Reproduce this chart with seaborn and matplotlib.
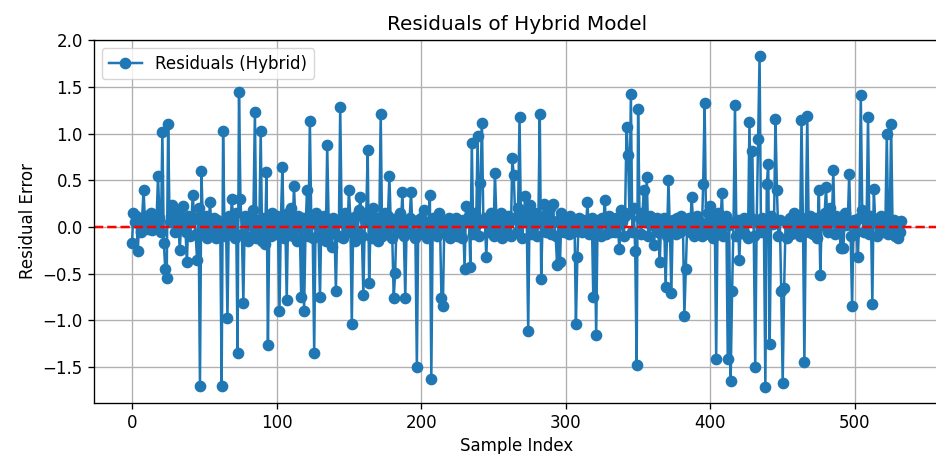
import matplotlib
matplotlib.use("Agg")
import matplotlib.pyplot as plt
import seaborn as sns
import numpy as np
import pandas as pd

# Residual values, sample index 0..532
residuals = [
    -0.17, 0.15, 0.05, 0.12, -0.26, 0.08, -0.05, 0.10, 0.40, 0.05,
    0.12, -0.02, 0.08, 0.15, -0.03, 0.10, 0.02, 0.08, 0.55, 0.10,
    -0.05, 1.02, -0.17, -0.45, -0.55, 1.10, 0.05, 0.12, 0.24, 0.05,
    -0.05, 0.15, 0.10, -0.25, 0.02, 0.22, 0.08, -0.05, -0.37, 0.12,
    -0.10, 0.05, 0.34, 0.10, -0.08, -0.35, 0.20, -1.70, 0.60, 0.05,
    -0.08, 0.12, -0.12, 0.05, 0.27, -0.05, 0.03, 0.10, -0.12, 0.08, -0.06,
    0.04, -1.70, 1.03, -0.10, 0.06, -0.98, 0.12, -0.05, 0.30, 0.08,
    -0.12, 0.15, -1.35, 1.45, 0.30, -0.08, -0.81, 0.12, 0.05, -0.15,
    0.10, 0.02, -0.10, 0.18, 1.23, -0.12, 0.08, -0.05, 1.03, -0.15,
    0.10, -0.18, 0.59, -1.26, 0.05, -0.10, 0.15, 0.02, -0.08, 0.12,
    -0.05, -0.90, 0.10, 0.64, -0.12, 0.05, -0.78, 0.15, -0.03, 0.20,
    -0.10, 0.44, 0.08, -0.15, 0.12, 0.02, -0.75, 0.10, -0.90, -0.05,
    0.40, -0.10, 1.14, 0.05, -0.12, -1.35, 0.15, 0.02, -0.08, -0.75,
    0.10, -0.05, 0.12, -0.15, 0.88, 0.05, -0.08, -0.21, 0.10, 0.02,
    -0.69, 0.05, -0.10, 1.29, 0.08, -0.12, 0.15, 0.02, -0.05, 0.40,
    0.10, -1.04, 0.05, -0.15, 0.12, -0.05, 0.18, 0.32, -0.10, -0.73,
    0.08, 0.15, 0.82, -0.60, 0.05, -0.12, 0.20, -0.05, 0.10, -0.15,
    0.02, 1.21, -0.10, 0.08, 0.15, -0.05, 0.12, 0.55, 0.02, -0.12,
    -0.76, -0.49, 0.10, -0.05, 0.15, 0.02, 0.38, -0.10, -0.76, 0.08,
    -0.05, 0.10, 0.38, -0.08, 0.05, -0.12, -1.50, 0.08, -0.05, 0.10,
    -0.08, 0.18, 0.02, -0.12, 0.05, 0.34, -1.63, 0.10, -0.05, 0.08,
    -0.10, 0.15, 0.02, -0.76, -0.85, 0.05, -0.02, -0.08, 0.10, -0.12, 0.02,
    0.08, -0.05, 0.10, -0.10, 0.05, 0.02, -0.12, 0.08, -0.45, 0.22,
    0.05, 0.12, -0.43, 0.90, -0.08, 0.15, 0.02, 0.97, -0.10, 0.47,
    1.12, 0.05, 0.10, -0.32, 0.08, -0.05, 0.15, 0.02, -0.10, 0.58,
    0.10, -0.05, 0.08, 0.15, -0.12, 0.02, 0.10, -0.08, 0.12, 0.05,
    -0.10, 0.74, 0.56, 0.10, -0.05, 0.20, 1.18, 0.05, -0.12, 0.15,
    0.33, 0.05, -1.12, 0.24, -0.08, 0.10, 0.02, 0.15, -0.10, 0.05,
    1.21, -0.56, 0.10, 0.25, -0.05, 0.12, 0.02, 0.20, -0.08, 0.25,
    0.05, -0.10, -0.41, 0.08, -0.38, 0.15, 0.02, -0.05, 0.10, 0.02,
    -0.08, 0.12, 0.05, -0.05, 0.08, -1.04, -0.32, 0.10, 0.02, -0.05,
    0.08, 0.04, 0.02, 0.27, -0.08, 0.05, 0.10, -0.75, -0.05, -1.16, 0.08,
    0.02, -0.10, 0.10, 0.05, 0.29, -0.08, 0.05, 0.12, -0.05, 0.02,
    0.08, -0.05, 0.10, 0.02, -0.24, 0.18, 0.05, -0.10, 0.12, 1.07,
    0.77, 0.15, 1.43, -0.05, 0.20, -0.26, -1.48, 1.27, 0.10, -0.08,
    0.15, 0.40, 0.05, 0.54, -0.10, 0.12, 0.02, 0.08, -0.19, 0.05,
    0.10, -0.05, -0.37, 0.08, 0.02, 0.10, -0.64, -0.10, 0.50, -0.05,
    -0.71, 0.08, 0.02, -0.08, 0.10, 0.05, -0.05, 0.12, 0.02, -0.95,
    -0.45, 0.05, 0.10, -0.05, 0.32, 0.08, -0.10, 0.02, 0.12, -0.05,
    0.05, -0.10, 0.46, 1.33, 0.02, 0.15, -0.08, 0.22, 0.05, -0.12,
    0.10, -1.41, 0.15, -0.05, 0.08, 0.36, -0.10, 0.05, 0.12, -1.41,
    0.02, -1.65, -0.69, 0.05, 1.31, -0.10, 0.08, -0.35, 0.05, 0.02,
    0.10, -0.08, 0.05, -0.12, 1.13, 0.10, 0.81, -0.10, -1.50, 0.05,
    0.94, 1.83, -0.05, 0.10, 0.02, -1.71, 0.46, 0.68, -1.25, 0.12, 0.03,
    0.05, 1.16, 0.40, -0.10, 0.08, -0.69, -1.67, -0.65, 0.05, -0.12,
    0.02, 0.10, -0.08, 0.05, 0.15, -0.05, 0.08, 0.02, -0.10, 1.15,
    0.05, -1.45, 0.10, 1.19, -0.05, 0.12, 0.02, -0.08, 0.10, 0.05,
    -0.12, 0.40, -0.51, 0.10, 0.02, 0.15, 0.43, -0.05, 0.08, 0.20,
    0.05, 0.61, -0.08, 0.12, 0.02, 0.10, -0.22, 0.05, -0.22, 0.15,
    0.02, 0.06, 0.57, -0.10, -0.85, 0.08, 0.05, -0.05, -0.32, 0.10, 1.41,
    0.18, -0.05, 0.10, 0.02, 1.18, -0.08, 0.12, -0.82, 0.41, 0.05,
    -0.10, 0.08, 0.02, 0.12, -0.05, 0.10, 0.02, 1.00, -0.08, 0.05,
    1.10, -0.03, 0.08, -0.10, 0.02, -0.12, -0.05, 0.06,
]
sample_index = list(range(len(residuals)))
series_label = "Residuals (Hybrid)"
x_ticks = [0, 100, 200, 300, 400, 500]
y_ticks = [-1.5, -1.0, -0.5, 0.0, 0.5, 1.0, 1.5, 2.0]

df = pd.DataFrame({"Sample Index": sample_index, "Residual Error": residuals})

S = 1.2  # screenshot scale factor
plt.rcParams.update({
    "font.size": 10 * S,
    "axes.linewidth": 0.8 * S,
    "axes.titlepad": 6 * S,
    "xtick.major.width": 0.8 * S,
    "ytick.major.width": 0.8 * S,
    "xtick.major.size": 3.5 * S,
    "ytick.major.size": 3.5 * S,
})

fig = plt.figure(figsize=(9.36, 4.54), dpi=100)
# place axes: x=0 at px 132, 1.446 px/sample; y=0 at px 227, 93.3 px/unit
n = len(residuals)
xmin = -0.05 * (n - 1)
xmax = (n - 1) * 1.05
ymin_d, ymax_d = min(residuals), max(residuals)
yr = ymax_d - ymin_d
ymin, ymax = ymin_d - 0.05 * yr, ymax_d + 0.05 * yr
left_px = 132 + xmin * 1.446
width_px = (xmax - xmin) * 1.446
top_px = 227 - ymax * 93.3
height_px = (ymax - ymin) * 93.3
ax = fig.add_axes([left_px / 936, 1 - (top_px + height_px) / 454,
                   width_px / 936, height_px / 454])

sns.lineplot(data=df, x="Sample Index", y="Residual Error", ax=ax,
             marker="o", color="#1f77b4", markersize=6 * S,
             markeredgecolor="#1f77b4", markeredgewidth=1.0 * S,
             linewidth=1.5 * S, sort=False, estimator=None, label=series_label)
ax.axhline(0, color="red", linestyle="--", linewidth=1.5 * S)

ax.set_title("Residuals of Hybrid Model", fontsize=12 * S)
ax.set_xlabel("Sample Index", fontsize=10 * S)
ax.set_ylabel("Residual Error", fontsize=10 * S)
ax.grid(True, color="#b0b0b0", linewidth=0.8 * S)
ax.set_xticks(x_ticks)
ax.set_yticks(y_ticks)
ax.set_xlim(xmin, xmax)
ax.set_ylim(ymin, ymax)
ax.legend(loc="upper left", fontsize=10 * S)

fig.savefig("out.png", dpi=100)
